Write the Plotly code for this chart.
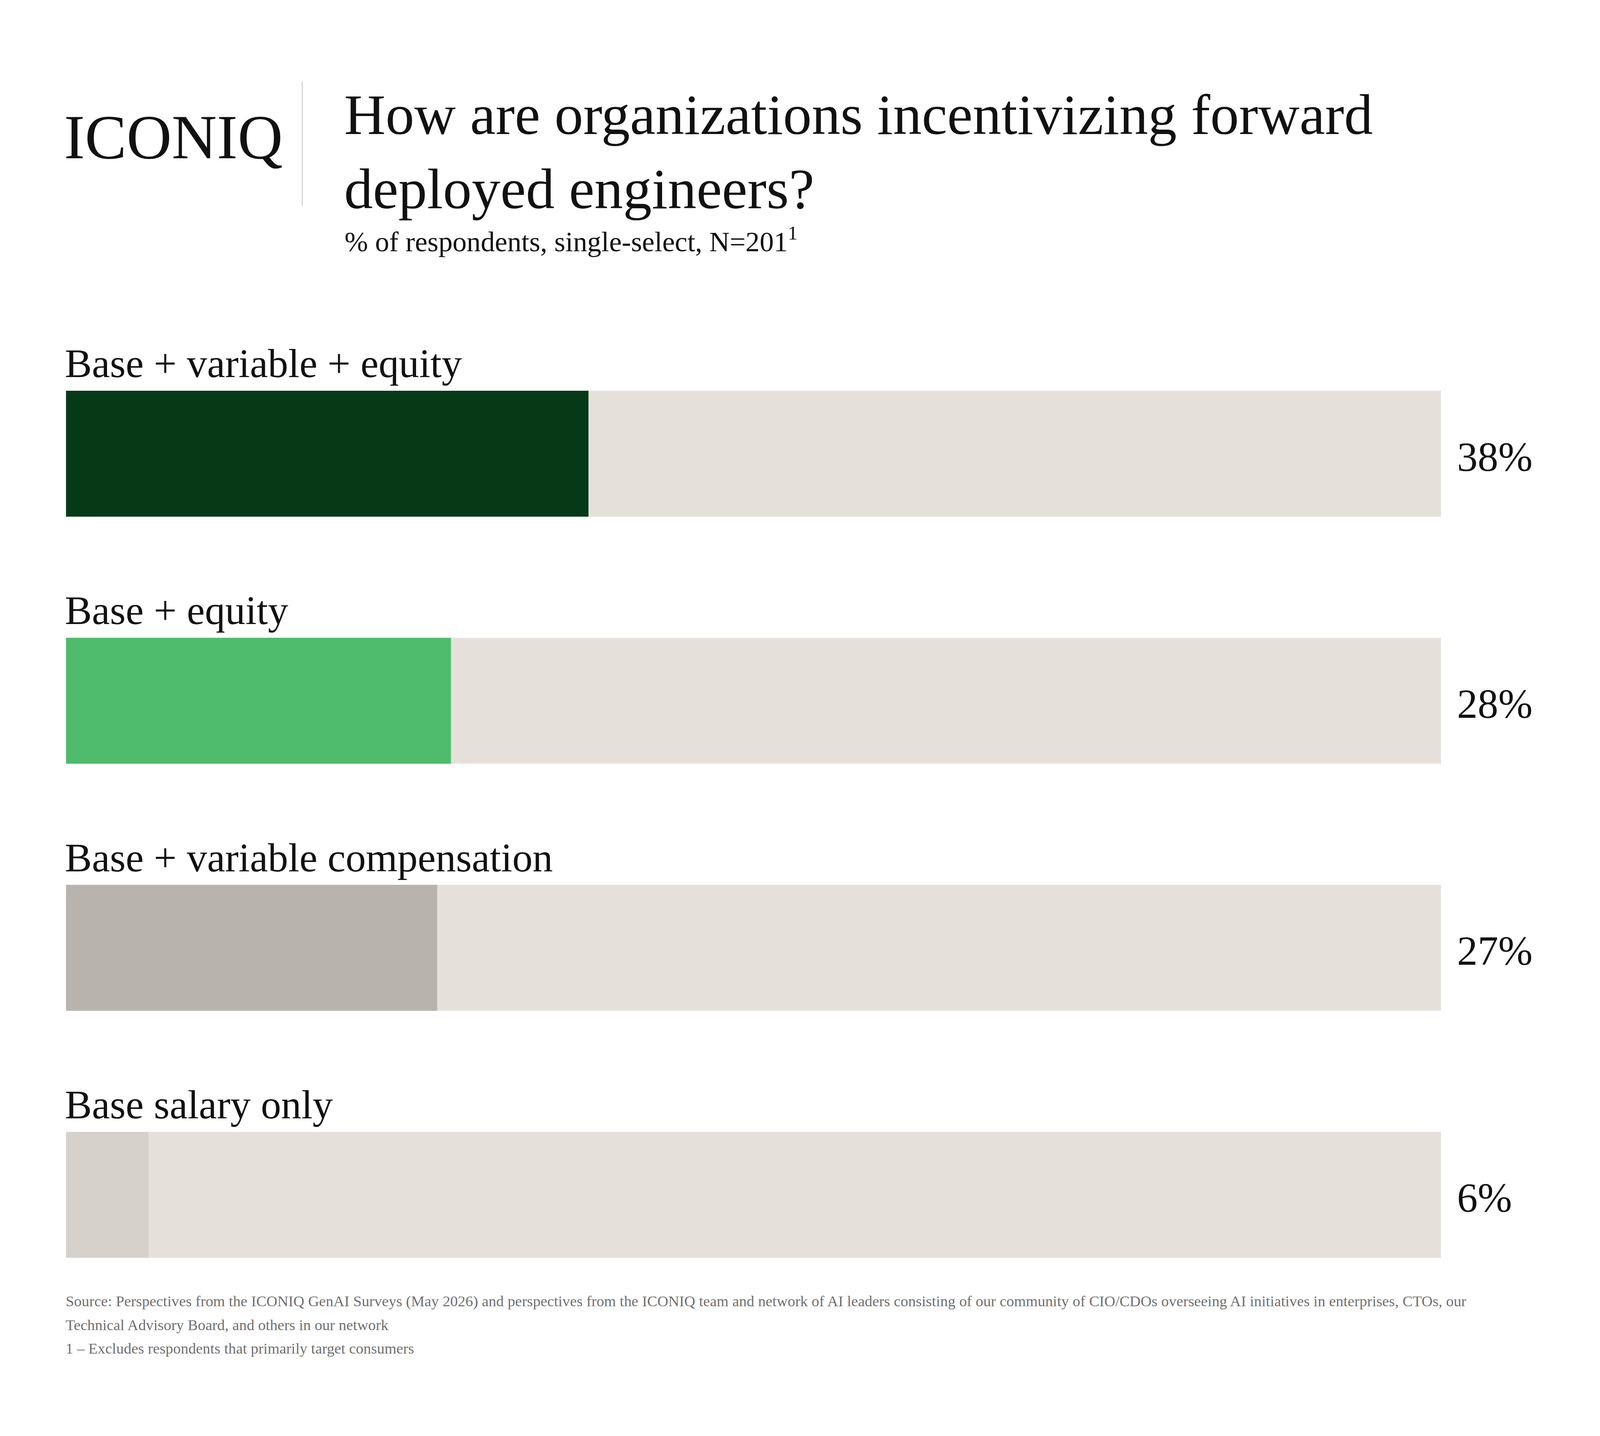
import plotly.graph_objects as go

# the browser viewport comes out at about 4093 x 3675 css px, so the
# reference (5067 x 3675) is squeezed horizontally to fill it
W, H = 4093, 3675
SX = W / 5067      # horizontal scale from reference px
FS = 0.88          # font scale for the large texts


def sx(v):
    return v * SX


# data
categories = ["Base + variable + equity", "Base + equity",
              "Base + variable compensation", "Base salary only"]
shares = [38, 28, 27, 6]
share_labels = ["38%", "28%", "27%", "6%"]
track = [100, 100, 100, 100]
bar_colors = ["#063a17", "#4fbb6c", "#b8b3ac", "#d6d1cb"]
track_color = "#e5e1da"

logo = "ICONIQ"
title_lines = ["How are organizations incentivizing forward", "deployed engineers?"]
subtitle = "% of respondents, single-select, N=201<sup>1</sup>"
notes = [
    "Source: Perspectives from the ICONIQ GenAI Surveys (May 2026) and perspectives from the ICONIQ team and network of AI leaders consisting of our community of CIO/CDOs overseeing AI initiatives in enterprises, CTOs, our",
    "Technical Advisory Board, and others in our network",
    "1 \u2013 Excludes respondents that primarily target consumers",
]

FONT = "Liberation Serif"


def text_at(x_ref, baseline, txt, size, color="#111111"):
    # left-anchored line of text placed by its baseline
    return dict(
        x=sx(x_ref) / W, y=1 - (baseline + 0.22 * size) / H,
        xref="paper", yref="paper", xanchor="left", yanchor="bottom",
        text=txt, showarrow=False, font=dict(family=FONT, size=size, color=color),
    )


fig = go.Figure()
fig.add_trace(go.Bar(
    x=track, y=categories, orientation="h", width=0.51,
    marker=dict(color=track_color, line=dict(width=0)), hoverinfo="skip",
))
fig.add_trace(go.Bar(
    x=shares, y=categories, orientation="h", width=0.51,
    marker=dict(color=bar_colors, line=dict(width=0)),
))

annotations = []
annotations.append(text_at(200, 407, logo, 160))
annotations.append(text_at(1088, 345, title_lines[0], 167 * FS))
annotations.append(text_at(1088, 535, title_lines[1], 167 * FS))
annotations.append(text_at(1090, 645, subtitle, 82 * FS))
for i, line in enumerate(notes):
    annotations.append(text_at(205, 3345 + i * 60, line, 48 * 0.81, "#707070"))

for cat, lab in zip(categories, share_labels):
    annotations.append(dict(
        x=0, y=cat, xref="x", yref="y", xanchor="left", yanchor="bottom",
        yshift=172, xshift=-5, text=cat, showarrow=False,
        font=dict(family=FONT, size=118 * FS, color="#111111"),
    ))
    annotations.append(dict(
        x=100, y=cat, xref="x", yref="y", xanchor="left", yanchor="middle",
        xshift=sx(48), yshift=-8, text=lab, showarrow=False,
        font=dict(family=FONT, size=120 * FS, color="#111111"),
    ))

fig.update_layout(
    width=W, height=H,
    margin=dict(l=0, r=0, t=0, b=0),
    paper_bgcolor="white", plot_bgcolor="white",
    barmode="overlay", showlegend=False,
    annotations=annotations,
    shapes=[dict(type="line", xref="paper", yref="paper",
                 x0=sx(958) / W, x1=sx(958) / W,
                 y0=1 - 209 / H, y1=1 - 526 / H,
                 line=dict(color="#cfcfcf", width=2.5))],
    xaxis=dict(domain=[209 / 5067, 4567 / 5067], range=[0, 100],
               visible=False, fixedrange=True),
    yaxis=dict(domain=[1 - 3374 / H, 1 - 845 / H], range=[3.5, -0.5],
               visible=False, fixedrange=True),
)

fig.write_html(
    "out.html",
    config={"displayModeBar": False},
    post_script="document.body.style.margin='0';document.body.style.overflow='hidden';",
)
